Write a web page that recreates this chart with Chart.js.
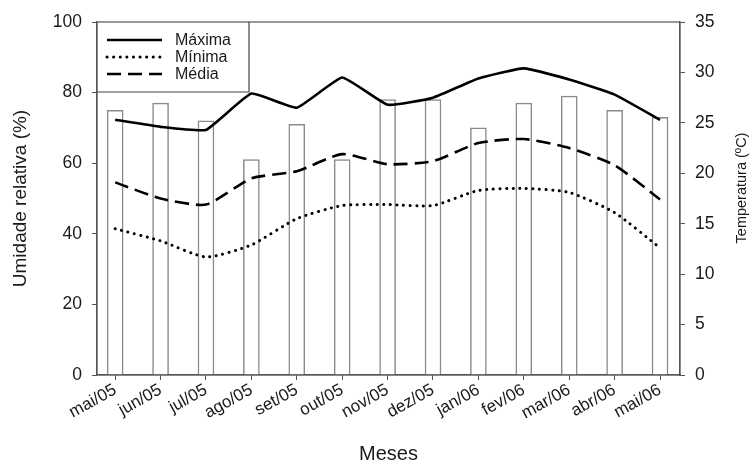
<!DOCTYPE html>
<html>
<head>
<meta charset="utf-8">
<script src="https://cdn.jsdelivr.net/npm/chart.js@4/dist/chart.umd.min.js"></script>
<style>
  html, body { margin: 0; padding: 0; background: #fff; }
  #wrap { width: 755px; height: 464px; }
</style>
</head>
<body>
<div id="wrap"><canvas id="chart"></canvas></div>
<script>
const meses = ['mai/05', 'jun/05', 'jul/05', 'ago/05', 'set/05', 'out/05', 'nov/05',
  'dez/05', 'jan/06', 'fev/06', 'mar/06', 'abr/06', 'mai/06'];

// umidade relativa (%) - barras, eixo esquerdo
const umidade = [75, 77, 72, 61, 71, 61, 78, 78, 70, 77, 79, 75, 73];

// temperatura (ºC) - linhas, eixo direito
const tempMax = [25.3, 24.6, 24.3, 27.9, 26.5, 29.5, 26.8, 27.5, 29.4, 30.4, 29.3, 27.8, 25.3];
const tempMin = [14.5, 13.3, 11.7, 12.9, 15.5, 16.8, 16.9, 16.8, 18.3, 18.5, 18.1, 16.1, 12.6];
const tempMed = [19.1, 17.5, 16.9, 19.5, 20.2, 21.9, 20.9, 21.2, 23.0, 23.4, 22.5, 20.8, 17.4];

const umidTicks = [0, 20, 40, 60, 80, 100];
const tempTicks = [0, 5, 10, 15, 20, 25, 30, 35];

const FONT = '"Liberation Sans", Arial, sans-serif';
const TEXT = '#1a1a1a';
const AXIS = '#555';

const dashes = {
  solid: [],
  dotted: [0.1, 6.5],
  dashed: [14, 7]
};

// months are placed at 0..12 on a linear axis
const toXY = arr => arr.map((v, i) => ({ x: i, y: v }));

// frame, inside legend and right-hand title
const extras = {
  id: 'extras',
  afterDraw(chart) {
    const c = chart.ctx;
    const a = chart.chartArea;
    c.save();
    c.strokeStyle = AXIS;
    c.lineWidth = 1.2;
    c.strokeRect(a.left, a.top, a.right - a.left, a.bottom - a.top);

    // legend box
    const boxR = 249, boxB = 92;
    c.fillStyle = '#fff';
    c.fillRect(a.left + 1, a.top + 1, boxR - a.left - 1, boxB - a.top - 1);
    c.beginPath();
    c.moveTo(a.left, boxB);
    c.lineTo(boxR, boxB);
    c.lineTo(boxR, a.top);
    c.strokeStyle = '#444';
    c.lineWidth = 1.2;
    c.stroke();

    const rows = [40, 57, 74];
    const lines = chart.data.datasets.filter(d => d.type === 'line');
    lines.forEach((ds, i) => {
      const y = rows[i];
      c.beginPath();
      c.setLineDash(ds.borderDash || []);
      c.lineCap = ds.borderCapStyle || 'butt';
      c.strokeStyle = ds.borderColor;
      c.lineWidth = ds.borderWidth;
      c.moveTo(107, y);
      c.lineTo(162, y);
      c.stroke();
      c.setLineDash([]);
      c.fillStyle = TEXT;
      c.font = '16px ' + FONT;
      c.textBaseline = 'middle';
      c.textAlign = 'left';
      c.fillText(ds.label, 175, y + 1);
    });

    // right axis title, reading bottom to top
    c.translate(742, 188);
    c.rotate(-Math.PI / 2);
    c.fillStyle = TEXT;
    c.font = '14.5px ' + FONT;
    c.textAlign = 'center';
    c.textBaseline = 'middle';
    c.fillText('Temperatura (ºC)', 0, 0);
    c.restore();
  }
};

new Chart(document.getElementById('chart'), {
  data: {
    datasets: [
      {
        type: 'line', label: 'Máxima', data: toXY(tempMax), yAxisID: 'yT', order: 0,
        borderColor: '#000', borderWidth: 2.6, borderDash: dashes.solid,
        pointRadius: 0, tension: 0.12, fill: false
      },
      {
        type: 'line', label: 'Mínima', data: toXY(tempMin), yAxisID: 'yT', order: 0,
        borderColor: '#000', borderWidth: 3, borderDash: dashes.dotted, borderCapStyle: 'round',
        pointRadius: 0, tension: 0.2, fill: false
      },
      {
        type: 'line', label: 'Média', data: toXY(tempMed), yAxisID: 'yT', order: 0,
        borderColor: '#000', borderWidth: 2.6, borderDash: dashes.dashed,
        pointRadius: 0, tension: 0.2, fill: false
      },
      {
        type: 'bar', label: 'Umidade relativa', data: toXY(umidade), yAxisID: 'yU', order: 1,
        backgroundColor: '#fff', borderColor: '#8a8a8a', borderWidth: 1.5,
        barThickness: 16
      }
    ]
  },
  options: {
    responsive: true,
    maintainAspectRatio: false,
    animation: false,
    layout: { padding: { top: 22, left: 0, right: 0, bottom: 0 } },
    plugins: { legend: { display: false }, tooltip: { enabled: false } },
    scales: {
      x: {
        type: 'linear', min: -0.4, max: 12.44, offset: false,
        afterBuildTicks(s) { s.ticks = meses.map((m, i) => ({ value: i })); },
        grid: { display: true, offset: false, drawOnChartArea: false, drawTicks: true, tickLength: 5, color: AXIS },
        border: { display: true, color: AXIS, width: 1.2 },
        ticks: {
          color: TEXT, font: { family: FONT, size: 17 },
          minRotation: 29, maxRotation: 29, padding: 0, autoSkip: false,
          callback: (v, i) => meses[i]
        },
        title: {
          display: true, text: 'Meses', color: TEXT,
          font: { family: FONT, size: 20, lineHeight: 1 }, padding: { top: 0, bottom: 0 }
        },
        afterFit(s) { s.height = 89; }
      },
      yU: {
        type: 'linear', position: 'left', min: 0, max: 100,
        afterBuildTicks(s) { s.ticks = umidTicks.map(v => ({ value: v })); },
        grid: { display: true, drawOnChartArea: false, drawTicks: true, tickLength: 5, color: AXIS },
        border: { display: true, color: AXIS, width: 1.2 },
        ticks: { color: TEXT, font: { family: FONT, size: 17.5 }, padding: 10 },
        title: {
          display: true, text: 'Umidade relativa (%)', color: TEXT,
          font: { family: FONT, size: 19 }, padding: { top: 9, bottom: 0 }
        },
        afterFit(s) { s.width = 97; }
      },
      yT: {
        type: 'linear', position: 'right', min: 0, max: 35,
        afterBuildTicks(s) { s.ticks = tempTicks.map(v => ({ value: v })); },
        grid: { display: true, drawOnChartArea: false, drawTicks: true, tickLength: 5, color: AXIS },
        border: { display: true, color: AXIS, width: 1.2 },
        ticks: { color: TEXT, font: { family: FONT, size: 17.5 }, padding: 10 },
        afterFit(s) { s.width = 75; }
      }
    }
  },
  plugins: [extras]
});
</script>
</body>
</html>
